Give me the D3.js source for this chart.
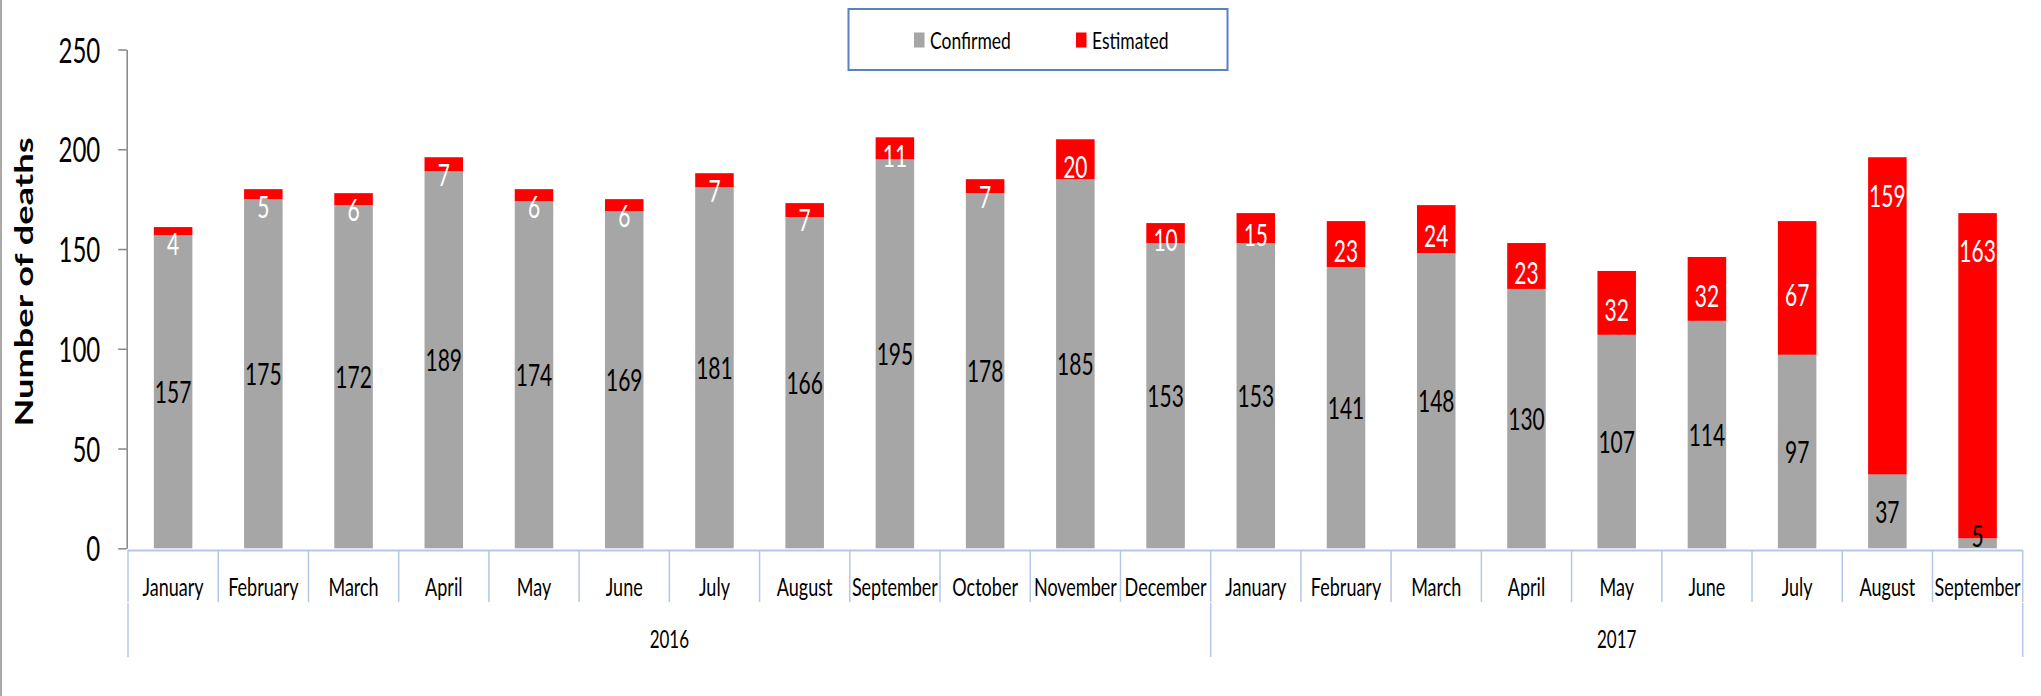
<!DOCTYPE html>
<html>
<head>
<meta charset="utf-8">
<title>Number of deaths</title>
<script src="https://d3js.org/d3.v7.min.js"></script>
<style>
  body { margin: 0; background: #fff; }
  svg { font-family: Lato, "Open Sans", sans-serif; }
</style>
</head>
<body>
<svg id="chart" width="2041" height="696"></svg>
<script>
// data
let months = ["January", "February", "March", "April", "May", "June", "July", "August",
  "September", "October", "November", "December",
  "January", "February", "March", "April", "May", "June", "July", "August", "September"];
let years = ["2016", "2017"];
let yearOf = [0,0,0,0,0,0,0,0,0,0,0,0, 1,1,1,1,1,1,1,1,1];
let confirmed = [157, 175, 172, 189, 174, 169, 181, 166, 195, 178, 185, 153,
  153, 141, 148, 130, 107, 114, 97, 37, 5];
let estimated = [4, 5, 6, 7, 6, 6, 7, 7, 11, 7, 20, 10,
  15, 23, 24, 23, 32, 32, 67, 159, 163];
let yTicks = [0, 50, 100, 150, 200, 250];

let svg = d3.select("#chart");

// text in the reference is drawn taller than wide
function stretch(k) { return "scale(1," + k + ")"; }
function translate(x, y) { return "translate(" + x + "," + y + ")"; }

let ids = months.map((m, i) => i);

let x = d3.scaleBand()
  .domain(ids)
  .range([128, 2022.7])
  .paddingInner(0.573)
  .paddingOuter(0.573 / 2);

let y = d3.scaleLinear()
  .domain([0, 250])
  .range([548.3, 49.5]);

// outer frame line on the left
svg.append("line")
  .attr("x1", 1).attr("x2", 1).attr("y1", 0).attr("y2", 696)
  .attr("stroke", "#8c8c8c").attr("stroke-width", 1.5);

// y axis
let yAxis = d3.axisLeft(y)
  .tickValues(yTicks)
  .tickSize(8.5)
  .tickSizeOuter(0)
  .tickPadding(18);

let yGroup = svg.append("g").attr("transform", translate(126.7, 0)).call(yAxis);
yGroup.select(".domain").attr("stroke", "#868686").attr("stroke-width", 1.5);
yGroup.selectAll(".tick line").attr("stroke", "#868686").attr("stroke-width", 1.5);
yGroup.selectAll(".tick text")
  .attr("font-size", 24)
  .attr("fill", "#000")
  .attr("dy", "0.36em")
  .attr("font-family", "Lato, sans-serif")
  .attr("transform", stretch(1.45));

svg.append("text")
  .attr("transform", translate(33, 282) + " " + stretch(1.45) + " rotate(-90)")
  .attr("text-anchor", "middle")
  .attr("font-size", 25)
  .attr("font-weight", "bold")
  .text("Number of deaths");

// stacked bars
let bars = svg.append("g");
bars.selectAll(".conf")
  .data(ids)
  .join("rect")
  .attr("class", "conf")
  .attr("x", i => x(i))
  .attr("width", x.bandwidth())
  .attr("y", i => y(confirmed[i]))
  .attr("height", i => y(0) - y(confirmed[i]))
  .attr("fill", "#a6a6a6");

bars.selectAll(".est")
  .data(ids)
  .join("rect")
  .attr("class", "est")
  .attr("x", i => x(i))
  .attr("width", x.bandwidth())
  .attr("y", i => y(confirmed[i] + estimated[i]))
  .attr("height", i => y(confirmed[i]) - y(confirmed[i] + estimated[i]))
  .attr("fill", "#ff0000");

// labels
function confY(i) {
  let c = (y(0) + y(confirmed[i])) / 2;
  return Math.min(c, y(0) - 13);
}
function estY(i) {
  let top = y(confirmed[i] + estimated[i]);
  let c = (top + y(confirmed[i])) / 2;
  if (estimated[i] > 100) return top + 38;
  return Math.max(c + 7, top + 17);
}

svg.append("g").selectAll("text")
  .data(ids)
  .join("text")
  .attr("transform", i => translate(x(i) + x.bandwidth() / 2, confY(i)) + " " + stretch(1.5))
  .attr("text-anchor", "middle")
  .attr("dy", "0.36em")
  .attr("font-size", 21)
  .attr("fill", "#000")
  .text(i => confirmed[i]);

svg.append("g").selectAll("text")
  .data(ids)
  .join("text")
  .attr("transform", i => translate(x(i) + x.bandwidth() / 2, estY(i)) + " " + stretch(1.5))
  .attr("text-anchor", "middle")
  .attr("dy", "0.36em")
  .attr("font-size", 21)
  .attr("fill", "#fff")
  .text(i => estimated[i]);

// category axis (two levels)
let axisCol = "#b4c7e7";
let left = i => x(i) + x.bandwidth() / 2 - x.step() / 2;
let xAxisG = svg.append("g");

xAxisG.append("line")
  .attr("x1", left(0)).attr("x2", left(20) + x.step())
  .attr("y1", 550.5).attr("y2", 550.5)
  .attr("stroke", axisCol).attr("stroke-width", 2);

let bounds = ids.map(left).concat([left(20) + x.step()]);
xAxisG.selectAll(".msep")
  .data(bounds)
  .join("line")
  .attr("class", "msep")
  .attr("x1", d => d).attr("x2", d => d)
  .attr("y1", 550).attr("y2", 602)
  .attr("stroke", axisCol).attr("stroke-width", 1.5);

let yearBounds = [left(0), left(12), left(20) + x.step()];
xAxisG.selectAll(".ysep")
  .data(yearBounds)
  .join("line")
  .attr("class", "ysep")
  .attr("x1", d => d).attr("x2", d => d)
  .attr("y1", 603).attr("y2", 657)
  .attr("stroke", axisCol).attr("stroke-width", 1.5);

xAxisG.selectAll(".mlab")
  .data(ids)
  .join("text")
  .attr("class", "mlab")
  .attr("transform", i => translate(x(i) + x.bandwidth() / 2, 587) + " " + stretch(1.35))
  .attr("text-anchor", "middle")
  .attr("dy", "0.36em")
  .attr("font-size", 18)
  .text(i => months[i]);

xAxisG.selectAll(".ylab")
  .data(years)
  .join("text")
  .attr("class", "ylab")
  .attr("transform", (d, k) => {
    let members = ids.filter(i => yearOf[i] === k);
    let x0 = left(members[0]);
    let x1 = left(members[members.length - 1]) + x.step();
    return translate((x0 + x1) / 2, 639) + " " + stretch(1.45);
  })
  .attr("text-anchor", "middle")
  .attr("dy", "0.36em")
  .attr("font-size", 17)
  .text(d => d);

// legend
let legend = svg.append("g");
legend.append("rect")
  .attr("x", 848.5).attr("y", 9).attr("width", 379).attr("height", 61)
  .attr("fill", "#fff").attr("stroke", "#5b80c2").attr("stroke-width", 2);

let keys = [
  { name: "Confirmed", color: "#a6a6a6", x: 914 },
  { name: "Estimated", color: "#ff0000", x: 1076 }
];
legend.selectAll(".sw")
  .data(keys)
  .join("rect")
  .attr("class", "sw")
  .attr("x", d => d.x).attr("y", 32.5)
  .attr("width", 10.5).attr("height", 15)
  .attr("fill", d => d.color);

legend.selectAll(".lt")
  .data(keys)
  .join("text")
  .attr("class", "lt")
  .attr("transform", d => translate(d.x + 16, 40.5) + " " + stretch(1.35))
  .attr("dy", "0.36em")
  .attr("font-size", 17.5)
  .text(d => d.name);
</script>
</body>
</html>
